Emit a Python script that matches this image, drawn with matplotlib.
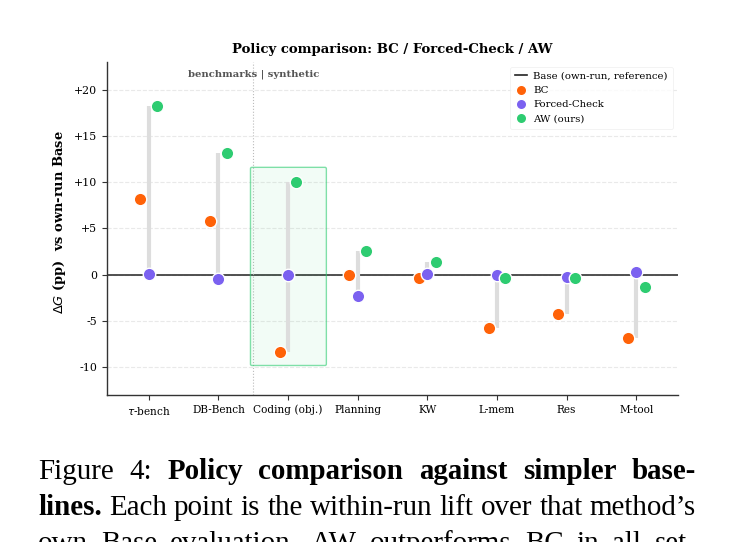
import matplotlib
matplotlib.use("Agg")
import matplotlib.pyplot as plt
import numpy as np
from matplotlib.lines import Line2D
from matplotlib.patches import FancyBboxPatch

# ---------------- data ----------------
cats = [r"$\tau$-bench", "DB-Bench", "Coding (obj.)", "Planning", "KW", "L-mem", "Res", "M-tool"]
bc = [8.2, 5.8, -8.3, 0.0, -0.4, -5.8, -4.2, -6.8]
fc = [0.1, -0.5, 0.0, -2.3, 0.1, 0.0, -0.25, 0.3]
aw = [18.2, 13.1, 10.0, 2.6, 1.4, -0.35, -0.35, -1.3]
yticks = [-10, -5, 0, 5, 10, 15, 20]
ytick_labels = ["-10", "-5", "0", "+5", "+10", "+15", "+20"]

c_bc = "#ff6208"
c_fc = "#7b61f0"
c_aw = "#2ecc71"

plt.rcParams["font.family"] = "DejaVu Serif"

fig = plt.figure(figsize=(7.33, 5.42), dpi=100)
ax = fig.add_axes([0.146, 0.271, 0.779, 0.615])

x = np.arange(len(cats))
off = 0.12

# grid + reference lines
for yt in yticks:
    ax.axhline(yt, color="#e9e9e9", lw=0.8, ls="--", zorder=0)
ax.axhline(0, color="#333333", lw=1.2, zorder=1)
ax.axvline(1.5, color="#bbbbbb", lw=0.8, ls=":", zorder=1)

# highlight box around the coding task
box = FancyBboxPatch((1.46, -9.8), 1.09, 21.4,
                     boxstyle="round,pad=0,rounding_size=0.02",
                     mutation_aspect=7.5,
                     facecolor=c_aw, alpha=0.06, edgecolor="none", zorder=1)
ax.add_patch(box)
box2 = FancyBboxPatch((1.46, -9.8), 1.09, 21.4,
                      boxstyle="round,pad=0,rounding_size=0.02",
                      mutation_aspect=7.5,
                      facecolor="none", edgecolor=c_aw, alpha=0.6, lw=1.0, zorder=1)
ax.add_patch(box2)

# range bars
for i in range(len(cats)):
    lo = min(bc[i], fc[i], aw[i])
    hi = max(bc[i], fc[i], aw[i])
    ax.plot([x[i], x[i]], [lo, hi], color="#dddddd", lw=3, solid_capstyle="butt", zorder=2)

ax.plot(x - off, bc, "o", color=c_bc, ms=9, mec="white", mew=1, zorder=3)
ax.plot(x, fc, "o", color=c_fc, ms=9, mec="white", mew=1, zorder=3)
ax.plot(x + off, aw, "o", color=c_aw, ms=9, mec="white", mew=1, zorder=3)

ax.text(1.5, 21.7, "benchmarks | synthetic", ha="center", va="center",
        fontsize=7.2, fontweight="bold", color="#555555")

ax.set_xlim(-0.6, 7.6)
ax.set_ylim(-13, 23)
ax.set_xticks(x)
ax.set_xticklabels(cats, fontsize=7.6)
ax.set_yticks(yticks)
ax.set_yticklabels(ytick_labels, fontsize=7.9)
ax.tick_params(length=3.5, width=0.8, color="#333333")
for s in ["top", "right"]:
    ax.spines[s].set_visible(False)
for s in ["left", "bottom"]:
    ax.spines[s].set_color("#333333")
    ax.spines[s].set_linewidth(1.0)

ax.set_ylabel(r"$\Delta G$ (pp)  vs own-run Base", fontsize=9.4, fontweight="bold")
ax.yaxis.set_label_coords(-0.068, 0.52)
ax.set_title("Policy comparison: BC / Forced-Check / AW", fontsize=9.5, fontweight="bold", pad=6)

handles = [
    Line2D([0], [0], color="#222222", lw=1.2),
    Line2D([0], [0], marker="o", ls="none", color=c_bc, ms=7.5, mec="white"),
    Line2D([0], [0], marker="o", ls="none", color=c_fc, ms=7.5, mec="white"),
    Line2D([0], [0], marker="o", ls="none", color=c_aw, ms=7.5, mec="white"),
]
leg = ax.legend(handles, ["Base (own-run, reference)", "BC", "Forced-Check", "AW (ours)"],
                loc="upper right", fontsize=7.3, frameon=True, handlelength=1.2,
                handletextpad=0.6, borderpad=0.5, labelspacing=0.5,
                bbox_to_anchor=(1.0, 1.0))
leg.get_frame().set_edgecolor("#eeeeee")
leg.get_frame().set_linewidth(0.6)

# ---------------- caption (justified) ----------------
caption = [
    [("Figure", "normal"), ("4:", "normal"), ("Policy", "bold"), ("comparison", "bold"),
     ("against", "bold"), ("simpler", "bold"), ("base-", "bold")],
    [("lines.", "bold"), ("Each", "normal"), ("point", "normal"), ("is", "normal"),
     ("the", "normal"), ("within-run", "normal"), ("lift", "normal"), ("over", "normal"),
     ("that", "normal"), ("method\u2019s", "normal")],
    [("own", "normal"), ("Base", "normal"), ("evaluation.", "normal"), ("AW", "normal"),
     ("outperforms", "normal"), ("BC", "normal"), ("in", "normal"), ("all", "normal"),
     ("set-", "normal")],
]
baselines = [479, 515, 551]
x_left, x_right = 38, 696
W, H = 733, 542

renderer = fig.canvas.get_renderer()

# pick the font size so that line 2 fits with ordinary spaces
probe = fig.text(0, 0, "lines. Each point is the within-run lift over that method\u2019s",
                 fontsize=19, family="Liberation Serif")
w19 = probe.get_window_extent(renderer).width
probe.remove()
cap_fs = 19 * (x_right - x_left) / w19

for words, base in zip(caption, baselines):
    texts = []
    for w, wt in words:
        t = fig.text(0, 1 - base / H, w, fontsize=cap_fs, fontweight=wt,
                     family="Liberation Serif", va="baseline", ha="left")
        texts.append(t)
    widths = [t.get_window_extent(renderer).width for t in texts]
    gap = (x_right - x_left - sum(widths)) / (len(texts) - 1)
    xp = x_left
    for t, wd in zip(texts, widths):
        t.set_x(xp / W)
        xp += wd + gap

fig.savefig("out.png", dpi=100)
